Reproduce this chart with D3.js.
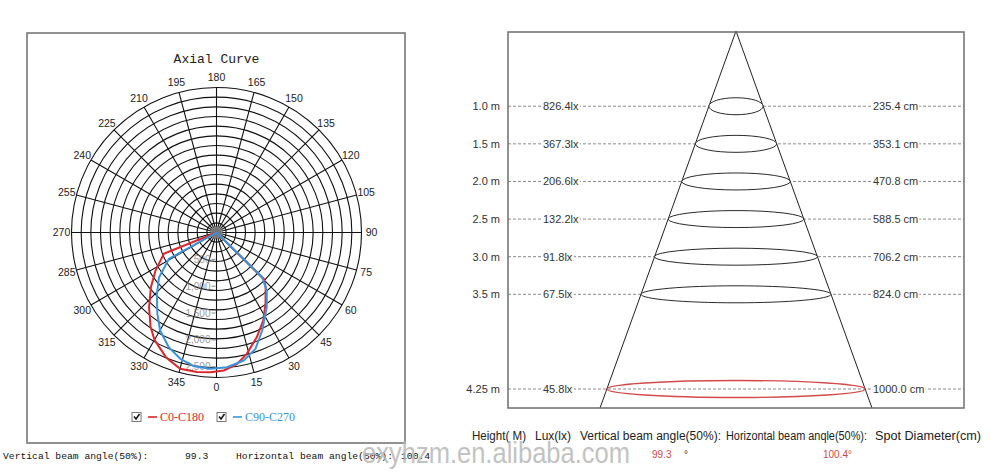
<!DOCTYPE html>
<html><head><meta charset="utf-8">
<script src="https://cdn.jsdelivr.net/npm/d3@7"></script>
<style>body{margin:0;background:#fff}</style>
</head><body>
<svg id="c" width="1000" height="475"></svg>
<script>
// ---------- data ----------
const angleTicks = d3.range(0, 360, 15);
const radialTicks = [500, 1000, 1500, 2000, 2500];
const radialTickLabels = ["500", "1,000", "1,500", "2,000", "2,500"];
const maxIntensity = 2700;
const ringCount = 15;
const c0Angles = [-90, -68, -58, -50, -42, -35, -30, -22, -15, -8, -2.5, 3, 9, 14, 21, 28, 34.5, 42, 45.6, 90];
const c0Values = [0, 1058, 1339, 1596, 1877, 2141, 2309, 2508, 2625, 2625, 2603, 2573, 2475, 2329, 2091, 1855, 1611, 1367, 1233, 0];
const c90Angles = [-90, -61, -52, -44, -36, -30, -22.6, -16, -9.6, -2.5, 4.5, 12, 18.5, 25, 34, 41, 45.6, 90];
const c90Values = [0, 1015, 1359, 1598, 1873, 2102, 2313, 2447, 2525, 2540, 2516, 2437, 2285, 2013, 1674, 1426, 1190, 0];
const legendLabels = ["C0-C180", "C90-C270"];
const heights = [1.0, 1.5, 2.0, 2.5, 3.0, 3.5, 4.25];
const heightLabels = ["1.0 m", "1.5 m", "2.0 m", "2.5 m", "3.0 m", "3.5 m", "4.25 m"];
const luxLabels = ["826.4lx", "367.3lx", "206.6lx", "132.2lx", "91.8lx", "67.5lx", "45.8lx"];
const spotLabels = ["235.4 cm", "353.1 cm", "470.8 cm", "588.5 cm", "706.2 cm", "824.0 cm", "1000.0 cm"];
const vBeam = "99.3", hBeam = "100.4";

const svg = d3.select("#c");
const RED = "#d9282e", BLUE = "#3b93dc";

// ---------- left panel ----------
svg.append("rect").attr("x", 27).attr("y", 33).attr("width", 378).attr("height", 410)
  .attr("fill", "none").attr("stroke", "#6e6e6e").attr("stroke-width", 1.5);

const cx = 216.5, cy = 232.5, R = 145;
const rScale = d3.scaleLinear().domain([0, maxIntensity]).range([0, R]);
const toRad = a => a * Math.PI / 180;
const g = svg.append("g").attr("transform", `translate(${cx},${cy})`);

svg.append("text").attr("x", cx).attr("y", 63).attr("text-anchor", "middle")
  .attr("font-family", "Liberation Mono, monospace").attr("font-size", 13).attr("fill", "#222")
  .text("Axial Curve");

// rings
g.selectAll("circle.ring").data(d3.range(1, ringCount + 1).map(i => maxIntensity * i / ringCount))
  .join("circle").attr("class", "ring").attr("r", d => rScale(d))
  .attr("fill", "none").attr("stroke", "#111").attr("stroke-width", 1.1);
// spokes
g.selectAll("line.spoke").data(angleTicks).join("line").attr("class", "spoke")
  .attr("x1", 0).attr("y1", 0)
  .attr("x2", d => rScale(maxIntensity) * Math.sin(toRad(d)))
  .attr("y2", d => rScale(maxIntensity) * Math.cos(toRad(d)))
  .attr("stroke", "#111").attr("stroke-width", 1.1);
// central blob
g.append("circle").attr("r", 6).attr("fill", "#8c8c8c").attr("opacity", 0.8);

// angle labels
g.selectAll("text.ang").data(angleTicks).join("text").attr("class", "ang")
  .attr("x", d => (R + 10) * Math.sin(toRad(d)))
  .attr("y", d => (R + 10) * Math.cos(toRad(d)))
  .attr("dy", "0.35em").attr("text-anchor", "middle")
  .attr("font-family", "Liberation Sans, Arial, sans-serif").attr("font-size", 10.5).attr("fill", "#222")
  .text(d => d);

// radial labels
g.selectAll("text.rad").data(radialTicks).join("text").attr("class", "rad")
  .attr("x", -6).attr("y", d => rScale(d)).attr("dy", "0.35em").attr("text-anchor", "end")
  .attr("font-family", "Liberation Sans, Arial, sans-serif").attr("font-size", 10)
  .attr("fill", "#8a8a8a").attr("opacity", 0.85)
  .text((d, i) => radialTickLabels[i]);
g.selectAll("line.rtick").data(radialTicks).join("line").attr("class", "rtick")
  .attr("x1", -5).attr("x2", -1).attr("y1", d => rScale(d)).attr("y2", d => rScale(d))
  .attr("stroke", "#8a8a8a");

// curves
const radial = d3.lineRadial().angle(d => Math.PI - toRad(d[0])).radius(d => rScale(d[1]));
g.append("path").datum(c0Angles.map((a, i) => [a, c0Values[i]]))
  .attr("d", radial).attr("fill", "none").attr("stroke", RED).attr("stroke-width", 2).attr("stroke-linejoin", "round");
g.append("path").datum(c90Angles.map((a, i) => [a, c90Values[i]]))
  .attr("d", radial).attr("fill", "none").attr("stroke", BLUE).attr("stroke-width", 2).attr("stroke-linejoin", "round");

// legend
const legendX = [132, 217], legendColors = [RED, BLUE];
legendLabels.forEach((lab, i) => {
  const x = legendX[i], y = 417;
  svg.append("rect").attr("x", x).attr("y", y - 4.5).attr("width", 9).attr("height", 9)
    .attr("fill", "#fff").attr("stroke", "#777");
  svg.append("path").attr("d", `M${x + 2},${y - 0.5} L${x + 4},${y + 2} L${x + 7.5},${y - 3}`)
    .attr("fill", "none").attr("stroke", "#111").attr("stroke-width", 1.5);
  svg.append("line").attr("x1", x + 16).attr("x2", x + 25).attr("y1", y).attr("y2", y)
    .attr("stroke", legendColors[i]).attr("stroke-width", 1.6);
  svg.append("text").attr("x", x + 28).attr("y", y + 4).attr("fill", legendColors[i])
    .attr("font-family", "Liberation Serif, serif").attr("font-size", 12).text(lab);
});

// bottom-left text
const monoFont = "Liberation Mono, monospace";
[["Vertical beam angle(50%):", 3], [vBeam, 185], ["Horizontal beam angle(50%):", 236], [hBeam, 401]]
  .forEach(([t, x]) => svg.append("text").attr("x", x).attr("y", 459)
    .attr("font-family", monoFont).attr("font-size", 9.7).attr("fill", "#111").text(t));

// ---------- right panel ----------
const box = {x0: 508, x1: 964, y0: 32, y1: 408};
const y = d3.scaleLinear().domain([0, 3.5, 4.25]).range([31, 294.3, 389]);
const apexX = 736;
const coneHalf = d3.scaleLinear().domain([y(0), box.y1]).range([0, 136]);

// dashed row lines
svg.selectAll("line.row").data(heights).join("line").attr("class", "row")
  .attr("x1", box.x0).attr("x2", box.x1).attr("y1", d => y(d)).attr("y2", d => y(d))
  .attr("stroke", "#8a8a8a").attr("stroke-dasharray", "3,2").attr("stroke-width", 1);

// cone
svg.append("path")
  .attr("d", `M${apexX - coneHalf(box.y1)},${box.y1} L${apexX},${y(0)} L${apexX + coneHalf(box.y1)},${box.y1}`)
  .attr("fill", "none").attr("stroke", "#222").attr("stroke-width", 1);

// ellipses
svg.selectAll("ellipse.spot").data(heights).join("ellipse").attr("class", "spot")
  .attr("cx", apexX).attr("cy", d => y(d)).attr("rx", d => coneHalf(y(d))).attr("ry", 8.5)
  .attr("fill", (d, i) => i === heights.length - 1 ? "none" : "#fff")
  .attr("stroke", (d, i) => i === heights.length - 1 ? "#d24a4a" : "#2a2a2a")
  .attr("stroke-width", (d, i) => i === heights.length - 1 ? 1.4 : 1);

// frame
svg.append("rect").attr("x", box.x0).attr("y", box.y0).attr("width", box.x1 - box.x0).attr("height", box.y1 - box.y0)
  .attr("fill", "none").attr("stroke", "#6e6e6e").attr("stroke-width", 1.5);

const sans = "Liberation Sans, Arial, sans-serif";
function labelWithBg(x, yy, txt, anchor) {
  const t = svg.append("text").attr("x", x).attr("y", yy).attr("dy", "0.35em")
    .attr("text-anchor", anchor).attr("font-family", sans).attr("font-size", 11).attr("fill", "#333").text(txt);
  const bb = t.node().getBBox();
  svg.insert("rect", () => t.node()).attr("x", bb.x - 1).attr("y", bb.y).attr("width", bb.width + 2)
    .attr("height", bb.height).attr("fill", "#fff");
}
heights.forEach((h, i) => {
  labelWithBg(500, y(h), heightLabels[i], "end");
  labelWithBg(543, y(h), luxLabels[i], "start");
  labelWithBg(873, y(h), spotLabels[i], "start");
});

// bottom right text
[["Height( M)", 472, 54], ["Lux(lx)", 535, 36], ["Vertical beam angle(50%):", 580, 141], ["Horizontal beam anqle(50%):", 726, 141], ["Spot Diameter(cm)", 875, 106]]
  .forEach(([t, x, w]) => svg.append("text").attr("x", x).attr("y", 440)
    .attr("font-family", sans).attr("font-size", 12).attr("fill", "#222")
    .attr("textLength", w).attr("lengthAdjust", "spacingAndGlyphs").text(t));
svg.append("text").attr("x", 652).attr("y", 458).attr("font-family", sans).attr("font-size", 10)
  .attr("fill", "#d24a4a").text(vBeam);
svg.append("text").attr("x", 684).attr("y", 458).attr("font-family", sans).attr("font-size", 10)
  .attr("fill", "#333").text("°");
svg.append("text").attr("x", 823).attr("y", 458).attr("font-family", sans).attr("font-size", 10)
  .attr("fill", "#d24a4a").text(hBeam + "°");

// watermark
svg.append("text").attr("x", 362).attr("y", 463).attr("font-family", sans).attr("font-size", 29)
  .attr("fill", "#b8b8b8").attr("opacity", 0.85).attr("textLength", 268).attr("lengthAdjust", "spacingAndGlyphs")
  .text("exyhzm.en.alibaba.com");
</script>
</body></html>
